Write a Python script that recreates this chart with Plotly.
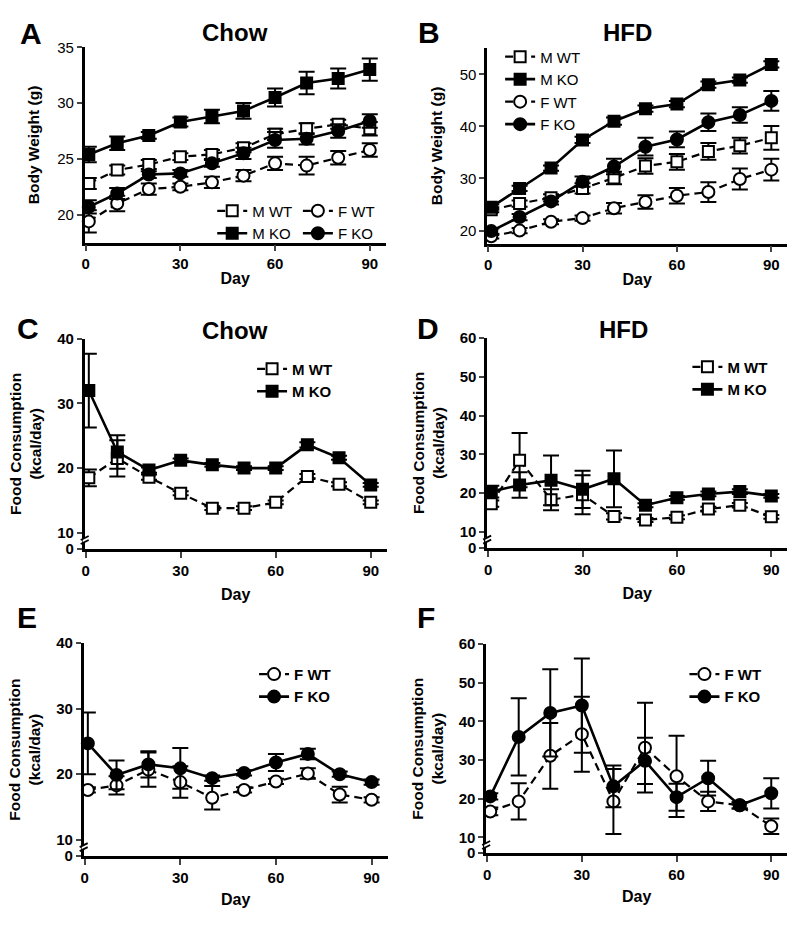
import plotly.graph_objects as go

# ---------------- data ----------------
days = [1, 10, 20, 30, 40, 50, 60, 70, 80, 90]
x_ticks = [0, 30, 60, 90]

# Panel A - Chow body weight (g)
a_mwt = [22.8, 24.0, 24.5, 25.2, 25.4, 26.0, 27.2, 27.7, 28.1, 27.7]
a_mwt_err = [0.5, 0.4, 0.4, 0.3, 0.4, 0.4, 0.5, 0.5, 0.4, 0.6]
a_mko = [25.4, 26.4, 27.1, 28.3, 28.8, 29.3, 30.5, 31.8, 32.2, 33.0]
a_mko_err = [0.7, 0.6, 0.3, 0.4, 0.6, 0.7, 0.8, 1.0, 0.9, 1.0]
a_fwt = [19.4, 21.0, 22.3, 22.5, 22.9, 23.5, 24.6, 24.4, 25.1, 25.8]
a_fwt_err = [1.0, 0.7, 0.5, 0.3, 0.5, 0.5, 0.6, 0.8, 0.6, 0.6]
a_fko = [20.7, 21.9, 23.6, 23.7, 24.6, 25.5, 26.7, 26.8, 27.5, 28.4]
a_fko_err = [0.6, 0.5, 0.3, 0.3, 0.3, 0.5, 0.7, 0.5, 0.6, 0.6]

# Panel B - HFD body weight (g)
b_mwt = [24.0, 25.2, 26.3, 28.1, 30.1, 32.4, 33.2, 35.2, 36.3, 37.8]
b_mwt_err = [0.5, 0.6, 0.7, 1.0, 1.2, 1.5, 1.5, 1.6, 1.5, 2.3]
b_mko = [24.5, 28.1, 32.0, 37.4, 41.0, 43.4, 44.3, 48.0, 48.9, 51.9]
b_mko_err = [0.5, 0.5, 0.5, 0.6, 0.7, 0.6, 0.6, 0.6, 0.5, 0.6]
b_fwt = [18.9, 20.0, 21.7, 22.4, 24.3, 25.5, 26.7, 27.4, 29.9, 31.7]
b_fwt_err = [0.4, 0.5, 0.5, 0.5, 1.0, 1.3, 1.5, 1.9, 2.0, 2.1]
b_fko = [19.9, 22.6, 25.6, 29.4, 32.3, 36.1, 37.5, 40.8, 42.2, 44.9]
b_fko_err = [0.5, 0.6, 0.6, 1.0, 1.5, 1.7, 1.5, 1.7, 1.5, 1.9]

# Panel C - Chow food consumption, males (kcal/day)
c_mwt = [18.5, 21.5, 18.6, 16.1, 13.8, 13.8, 14.7, 18.7, 17.5, 14.7]
c_mwt_err = [1.3, 2.8, 0.4, 0.3, 0.3, 0.3, 0.3, 0.4, 0.3, 0.3]
c_mko = [32.0, 22.5, 19.7, 21.2, 20.5, 20.0, 20.0, 23.6, 21.6, 17.4]
c_mko_err = [5.7, 2.6, 0.4, 0.3, 0.3, 0.3, 0.3, 0.4, 0.3, 0.3]

# Panel D - HFD food consumption, males (kcal/day)
d_mwt = [17.3, 28.5, 18.3, 19.6, 14.0, 13.1, 13.8, 15.9, 16.9, 13.9]
d_mwt_err = [0.8, 7.0, 2.7, 5.0, 0.8, 0.5, 0.5, 0.6, 0.6, 0.5]
d_mko = [20.4, 22.1, 23.3, 21.0, 23.7, 16.9, 18.8, 19.8, 20.4, 19.3]
d_mko_err = [1.5, 3.3, 6.4, 4.8, 7.3, 0.5, 0.5, 0.6, 0.6, 0.5]

# Panel E - Chow food consumption, females (kcal/day)
e_fwt = [17.6, 18.3, 20.7, 18.8, 16.4, 17.6, 18.9, 20.1, 16.9, 16.1]
e_fwt_err = [0.4, 1.4, 2.6, 2.4, 1.8, 0.4, 0.4, 0.8, 1.2, 0.4]
e_fko = [24.7, 19.9, 21.5, 20.9, 19.4, 20.2, 21.8, 23.1, 20.0, 18.8]
e_fko_err = [4.7, 2.2, 2.0, 3.1, 0.4, 0.4, 1.3, 0.8, 0.4, 0.4]

# Panel F - HFD food consumption, females (kcal/day)
f_fwt = [16.7, 19.3, 31.1, 36.7, 19.3, 33.2, 25.8, 19.3, 18.3, 12.9]
f_fwt_err = [1.0, 4.7, 8.5, 9.7, 8.4, 11.6, 10.5, 2.5, 0.8, 2.0]
f_fko = [20.6, 36.0, 42.2, 44.1, 23.2, 29.8, 20.4, 25.3, 18.3, 21.4]
f_fko_err = [0.8, 10.0, 11.3, 12.2, 5.4, 6.0, 3.5, 4.5, 0.8, 3.9]

# ---------------- styling helpers ----------------
W, H = 800, 926
FONT = "Liberation Sans, Arial, Helvetica, sans-serif"


def dom_x(a, b):
    return [a / W, b / W]


def dom_y(top, bottom):
    return [1 - bottom / H, 1 - top / H]


STYLES = {
    "open_sq": dict(symbol="square", fill="white", dash="8px,5px", size=11, lw=2.2),
    "fill_sq": dict(symbol="square", fill="black", dash="solid", size=11, lw=2.6),
    "open_ci": dict(symbol="circle", fill="white", dash="8px,5px", size=12, lw=2.2),
    "fill_ci": dict(symbol="circle", fill="black", dash="solid", size=12, lw=2.6),
}

fig = go.Figure()


def add_series(ax, y, err, name, kind, legend, rank):
    s = STYLES[kind]
    fig.add_trace(go.Scatter(
        x=days, y=y, name=name, mode="lines+markers",
        xaxis="x" + ax, yaxis="y" + ax,
        line=dict(color="black", width=s["lw"], dash=s["dash"]),
        marker=dict(symbol=s["symbol"], size=s["size"], color=s["fill"],
                    line=dict(color="black", width=2)),
        error_y=dict(type="data", array=err, visible=True, color="black",
                     thickness=2, width=8),
        legend=legend, legendrank=rank,
        cliponaxis=False,
    ))


# Panel A (axis id "")
add_series("", a_mwt, a_mwt_err, "M WT", "open_sq", "legend", 1)
add_series("", a_fwt, a_fwt_err, "F WT", "open_ci", "legend2", 1)
add_series("", a_mko, a_mko_err, "M KO", "fill_sq", "legend", 2)
add_series("", a_fko, a_fko_err, "F KO", "fill_ci", "legend2", 2)
# Panel B
add_series("2", b_mwt, b_mwt_err, "M WT", "open_sq", "legend3", 1)
add_series("2", b_fwt, b_fwt_err, "F WT", "open_ci", "legend3", 3)
add_series("2", b_mko, b_mko_err, "M KO", "fill_sq", "legend3", 2)
add_series("2", b_fko, b_fko_err, "F KO", "fill_ci", "legend3", 4)
# Panel C
add_series("3", c_mwt, c_mwt_err, "M WT", "open_sq", "legend4", 1)
add_series("3", c_mko, c_mko_err, "M KO", "fill_sq", "legend4", 2)
# Panel D
add_series("4", d_mwt, d_mwt_err, "M WT", "open_sq", "legend5", 1)
add_series("4", d_mko, d_mko_err, "M KO", "fill_sq", "legend5", 2)
# Panel E
add_series("5", e_fwt, e_fwt_err, "F WT", "open_ci", "legend6", 1)
add_series("5", e_fko, e_fko_err, "F KO", "fill_ci", "legend6", 2)
# Panel F
add_series("6", f_fwt, f_fwt_err, "F WT", "open_ci", "legend7", 1)
add_series("6", f_fko, f_fko_err, "F KO", "fill_ci", "legend7", 2)

# ---------------- axes ----------------
FC = "Food Consumption<br>(kcal/day)"
panels = [
    # id, x px, y px (top,bottom), y range, tick vals, tick text, bold y ticks, y title, x standoff, y standoff
    ("", (82, 384), (39, 238), [17.5, 35], [20, 25, 30, 35], None, False,
     "Body Weight (g)", 2, 14),
    ("2", (486, 787), (40, 239), [17.5, 55], [20, 30, 40, 50], None, False,
     "Body Weight (g)", 2, 14),
    ("3", (82, 385), (336, 550), [7.5, 40], [7.5, 10, 20, 30, 40],
     ["0", "10", "20", "30", "40"], True, FC, 12, 12),
    ("4", (486, 787), (335, 549), [5.9, 60], [5.9, 10, 20, 30, 40, 50, 60],
     ["0", "10", "20", "30", "40", "50", "60"], True, FC, 12, 12),
    ("5", (81, 386), (646, 863), [7.5, 40], [7.5, 10, 20, 30, 40],
     ["0", "10", "20", "30", "40"], True, FC, 9, 12),
    ("6", (485, 787), (647, 860), [5.9, 60], [5.9, 10, 20, 30, 40, 50, 60],
     ["0", "10", "20", "30", "40", "50", "60"], True, FC, 9, 12),
]

layout_axes = {}
shapes = []
for pid, xd, yd, yr, tv, tt, ybold, ytitle, xso, yso in panels:
    layout_axes["xaxis" + pid] = dict(
        domain=dom_x(*xd), range=[-0.3, 95], anchor="y" + pid,
        tickvals=x_ticks, ticks="outside", ticklen=6, tickwidth=2,
        showline=True, linewidth=2.5, linecolor="black",
        showgrid=False, zeroline=False,
        tickfont=dict(family=FONT, size=15, color="black", weight="bold"),
        title=dict(text="Day", standoff=xso,
                   font=dict(family=FONT, size=16, color="black", weight="bold")),
    )
    ydict = dict(
        domain=dom_y(*yd), range=yr, anchor="x" + pid,
        tickvals=tv, ticks="outside", ticklen=5, tickwidth=2,
        showline=True, linewidth=2.5, linecolor="black",
        showgrid=False, zeroline=False,
        tickfont=dict(family=FONT, size=15, color="black",
                      weight="bold" if ybold else "normal"),
        title=dict(text=ytitle, standoff=yso,
                   font=dict(family=FONT, size=15.5, color="black", weight="bold")),
    )
    if tt is not None:
        ydict["ticktext"] = tt
    layout_axes["yaxis" + pid] = ydict

    # axis break marks between the 0 and 10 ticks
    if tt is not None:
        brk = (tv[0] + 10) / 2 + 0.2
        xr = ("x" + pid if pid else "x") + " domain"
        yref = "y" + pid if pid else "y"
        shapes.append(dict(type="rect", xref=xr, yref=yref, xsizemode="pixel",
                           ysizemode="pixel", xanchor=0, yanchor=brk,
                           x0=-2, x1=2, y0=-2.5, y1=1.5,
                           fillcolor="white", line=dict(width=0), layer="above"))
        for off in (-2.5, 1.5):
            shapes.append(dict(type="line", xref=xr, yref=yref, xsizemode="pixel",
                               ysizemode="pixel", xanchor=0, yanchor=brk,
                               x0=-4, x1=4, y0=off - 2, y1=off + 2,
                               line=dict(color="black", width=1.8), layer="above"))


def legend_box(text_left, first_row, bold):
    return dict(
        x=(text_left - 41) / W, y=1 - (first_row - 11) / H,
        xanchor="left", yanchor="top", orientation="v",
        bgcolor="rgba(0,0,0,0)", borderwidth=0, tracegroupgap=0,
        font=dict(family=FONT, size=15, color="black",
                  weight="bold" if bold else "normal"),
        itemwidth=30,
    )


legends = dict(
    legend=legend_box(251, 200, False),
    legend2=legend_box(337, 200, False),
    legend3=legend_box(540, 43, False),
    legend4=legend_box(291, 361, True),
    legend5=legend_box(728, 359, True),
    legend6=legend_box(293, 672, True),
    legend7=legend_box(725, 672, True),
)

# panel letters and titles
annotations = []
for txt, x, y, size in [("A", 28, 25, 30), ("B", 428, 24, 30), ("C", 25, 325, 30),
                        ("D", 427, 325, 30), ("E", 24, 620, 30), ("F", 425, 620, 30),
                        ("Chow", 233, 24, 24), ("HFD", 627, 24, 24),
                        ("Chow", 233, 328, 24), ("HFD", 623, 327, 24)]:
    annotations.append(dict(text=txt, x=x / W, y=1 - y / H, xref="paper", yref="paper",
                            xanchor="center", yanchor="middle", showarrow=False,
                            font=dict(family=FONT, size=size, color="black",
                                      weight="bold")))

fig.update_layout(
    width=W, height=H, margin=dict(l=0, r=0, t=0, b=0),
    paper_bgcolor="white", plot_bgcolor="white",
    font=dict(family=FONT, color="black"),
    showlegend=True, shapes=shapes, annotations=annotations,
    **layout_axes, **legends,
)

fig.write_html("out.html", config={"displayModeBar": False},
               post_script="document.body.style.margin='0';"
                           "document.body.style.overflow='hidden';")
